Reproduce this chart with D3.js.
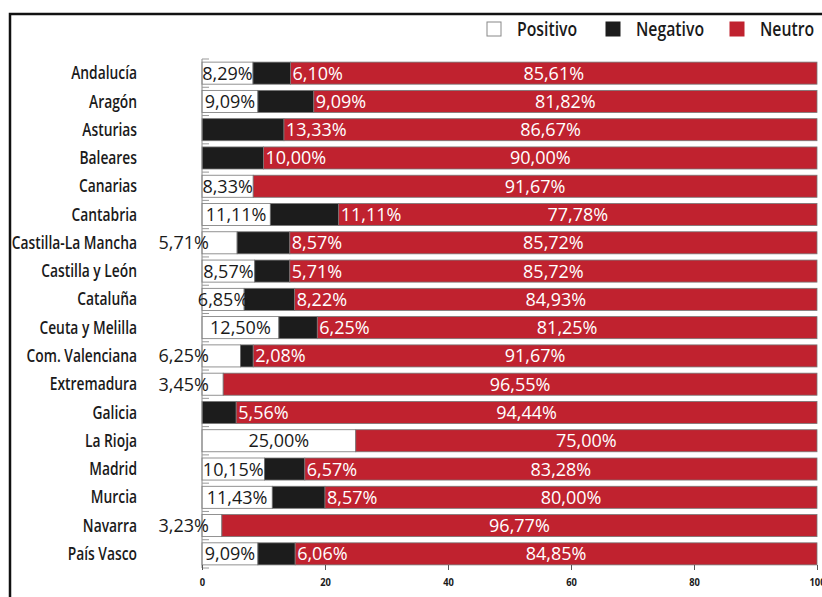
<!DOCTYPE html>
<html lang="es">
<head>
    <meta charset="UTF-8">
    <title>Valoración por comunidad autónoma</title>
    <script src="https://d3js.org/d3.v7.min.js"></script>
</head>

<style>
    body { margin: 0; background: #fff; }
    text { font-family: "Open Sans", sans-serif; }
    .cat text { font-weight: 600; font-size: 17.5px; fill: #1a1a1a; }
    .val { font-size: 18px; }
    .legend text { font-weight: 600; font-size: 19.5px; fill: #1a1a1a; }
    .xaxis text { font-weight: 700; font-size: 11px; fill: #1a1a1a; }
</style>

<body>
<svg width="822" height="597"></svg>

<script>
    // datos (porcentajes)
    var regiones = ["Andalucía", "Aragón", "Asturias", "Baleares", "Canarias", "Cantabria",
        "Castilla-La Mancha", "Castilla y León", "Cataluña", "Ceuta y Melilla", "Com. Valenciana",
        "Extremadura", "Galicia", "La Rioja", "Madrid", "Murcia", "Navarra", "País Vasco"];
    var positivo = [8.29, 9.09, 0, 0, 8.33, 11.11, 5.71, 8.57, 6.85, 12.50, 6.25, 3.45, 0, 25.00, 10.15, 11.43, 3.23, 9.09];
    var negativo = [6.10, 9.09, 13.33, 10.00, 0, 11.11, 8.57, 5.71, 8.22, 6.25, 2.08, 0, 5.56, 0, 6.57, 8.57, 0, 6.06];
    var neutro = [85.61, 81.82, 86.67, 90.00, 91.67, 77.78, 85.72, 85.72, 84.93, 81.25, 91.67, 96.55, 94.44, 75.00, 83.28, 80.00, 96.77, 84.85];
    var series = ["Positivo", "Negativo", "Neutro"];
    var xTicks = [0, 20, 40, 60, 80, 100];

    var colores = {Positivo: "#ffffff", Negativo: "#1c1c1c", Neutro: "#c0222f"};

    var svg = d3.select("svg");

    // marco
    svg.append("rect")
        .attr("x", 10).attr("y", 14)
        .attr("width", 830).attr("height", 600)
        .attr("fill", "none")
        .attr("stroke", "#111")
        .attr("stroke-width", 2.5);

    var x = d3.scaleLinear().domain([0, 100]).range([202, 817]);
    var y = d3.scaleBand().domain(regiones).range([59, 568])
        .paddingInner(0.22).paddingOuter(0.11);

    var filas = regiones.map(function (r, i) {
        return {region: r, Positivo: positivo[i], Negativo: negativo[i], Neutro: neutro[i]};
    });
    var stack = d3.stack().keys(series)(filas);

    // barras
    var capas = svg.append("g").selectAll("g")
        .data(stack)
        .enter().append("g")
        .attr("fill", function (d) { return colores[d.key]; });

    capas.selectAll("rect")
        .data(function (d) { return d; })
        .enter().append("rect")
        .filter(function (d) { return d[1] - d[0] > 0; })
        .attr("x", function (d) { return x(d[0]); })
        .attr("y", function (d) { return y(d.data.region); })
        .attr("width", function (d) { return x(d[1]) - x(d[0]); })
        .attr("height", y.bandwidth())
        .attr("stroke", "#777")
        .attr("stroke-width", 0.8);

    // eje vertical con marcas entre categorias
    svg.append("line")
        .attr("x1", x(0)).attr("x2", x(0))
        .attr("y1", 59).attr("y2", 568)
        .attr("stroke", "#888").attr("stroke-width", 1);
    var lim = regiones.map(function (r) { return y(r) - y.step() * y.paddingInner() / 2; });
    lim.push(568);
    svg.append("g").selectAll("line")
        .data(lim)
        .enter().append("line")
        .attr("x1", x(0)).attr("x2", x(0) + 7)
        .attr("y1", function (d) { return d; })
        .attr("y2", function (d) { return d; })
        .attr("stroke", "#999").attr("stroke-width", 1);

    // etiquetas de categoria (fuente estrecha)
    var cat = svg.append("g").attr("class", "cat").selectAll("g")
        .data(regiones)
        .enter().append("g")
        .attr("transform", function (d) {
            return "translate(137," + (y(d) + y.bandwidth() / 2) + ") scale(0.79,1)";
        });
    cat.append("text")
        .attr("text-anchor", "end")
        .attr("dy", "0.35em")
        .text(function (d) { return d; });

    function fmt(v) { return v.toFixed(2).replace(".", ",") + "%"; }

    // etiquetas de valores
    var etq = svg.append("g");
    filas.forEach(function (d) {
        var cy = y(d.region) + y.bandwidth() / 2;
        var w = x(d.Positivo) - x(0);
        if (d.Positivo > 0) {
            var t = etq.append("text").attr("class", "val")
                .attr("y", cy).attr("dy", "0.36em")
                .attr("fill", "#1a1a1a")
                .text(fmt(d.Positivo));
            if (w < 40) {
                t.attr("x", x(0) + 7).attr("text-anchor", "end");
            } else {
                t.attr("x", x(d.Positivo / 2)).attr("text-anchor", "middle");
            }
        }
        if (d.Negativo > 0) {
            etq.append("text").attr("class", "val")
                .attr("x", x(d.Positivo + d.Negativo) + 2)
                .attr("y", cy).attr("dy", "0.36em")
                .attr("fill", "#fff")
                .text(fmt(d.Negativo));
        }
        etq.append("text").attr("class", "val")
            .attr("x", x(d.Positivo + d.Negativo + d.Neutro / 2))
            .attr("y", cy).attr("dy", "0.36em")
            .attr("text-anchor", "middle")
            .attr("fill", "#fff")
            .text(fmt(d.Neutro));
    });

    // eje x
    var xaxis = svg.append("g").attr("class", "xaxis")
        .attr("transform", "translate(0,565)")
        .call(d3.axisBottom(x).tickValues(xTicks).tickSize(5).tickPadding(8).tickFormat(d3.format("d")));
    xaxis.select(".domain").remove();
    xaxis.selectAll(".tick line").attr("stroke", "#555");
    xaxis.selectAll(".tick text").attr("transform", "scale(0.85,1)");

    // leyenda
    var legX = [487, 606, 730];
    var leg = svg.append("g").attr("class", "legend").selectAll("g")
        .data(series)
        .enter().append("g")
        .attr("transform", function (d, i) { return "translate(" + legX[i] + ",22)"; });
    leg.append("rect")
        .attr("width", 14).attr("height", 14)
        .attr("fill", function (d) { return colores[d]; })
        .attr("stroke", function (d) { return d === "Positivo" ? "#888" : colores[d]; });
    leg.append("g")
        .attr("transform", "translate(30,7) scale(0.81,1)")
        .append("text")
        .attr("dy", "0.35em")
        .text(function (d) { return d; });
</script>
</body>
</html>
